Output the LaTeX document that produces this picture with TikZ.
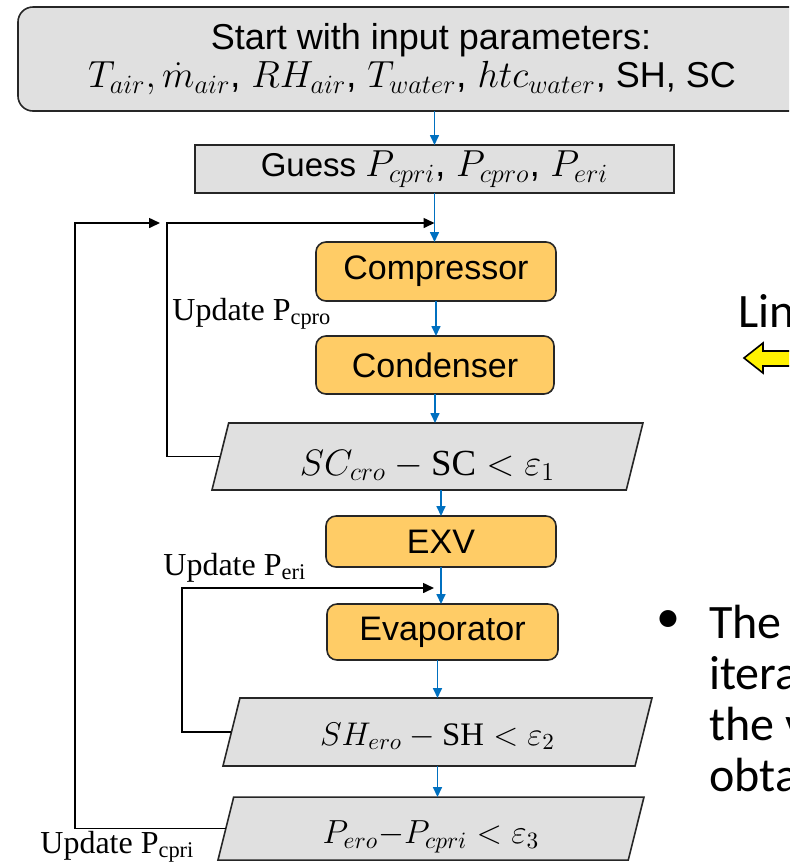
\RequirePackage{fix-cm}
\documentclass[tikz,border=0pt]{standalone}
\usepackage{amsmath,amssymb}
\usepackage{fontspec}
\setmainfont{Liberation Serif}
\setsansfont{Liberation Sans}
\newfontfamily\slidefont{Carlito}
\usepackage{tikz}
\usetikzlibrary{shapes.geometric,arrows.meta,positioning}

\definecolor{boxgray}{RGB}{224,224,224}
\definecolor{unitorange}{RGB}{255,204,102}
\definecolor{flowblue}{RGB}{0,112,192}
\definecolor{edgegray}{RGB}{38,38,38}

\begin{document}
\begin{tikzpicture}[
    x=0.5pt, y=-0.5pt,
    >={Triangle[length=5.5pt,width=5pt]},
    inbox/.style={draw=edgegray, line width=0.8pt, fill=boxgray, rectangle,
                  rounded corners=7.5pt, align=center, inner sep=0pt, outer sep=0pt,
                  font=\sffamily\fontsize{18}{19}\selectfont},
    guessbox/.style={draw=edgegray, line width=0.8pt, fill=boxgray, rectangle,
                     inner sep=0pt, outer sep=0pt,
                     font=\sffamily\fontsize{16.5}{20}\selectfont},
    unit/.style={draw=edgegray, line width=0.8pt, fill=unitorange, rectangle,
                 rounded corners=5pt, inner sep=0pt, outer sep=0pt,
                 font=\sffamily\fontsize{17}{20}\selectfont},
    check/.style={draw=edgegray, line width=0.8pt, fill=boxgray, trapezium,
                  trapezium left angle=76, trapezium right angle=104,
                  trapezium stretches body, inner xsep=0pt, outer sep=0pt},
    flow/.style={->, flowblue, line width=0.8pt, >={Triangle[length=5pt,width=4.5pt]}},
    back/.style={->, black, line width=0.8pt},
    update/.style={anchor=base west, inner sep=0pt, font=\fontsize{16}{19}\selectfont},
    slide/.style={anchor=base west, inner sep=0pt, font=\slidefont\fontsize{24}{26}\selectfont}
]
\useasboundingbox (0,0) rectangle (789,864);
\clip (0,0) rectangle (789,864);

% main chain
\node[inbox, minimum width=413pt, minimum height=52pt] (start) at (431,59)
  {Start with input parameters:\\
   {\fontsize{18.9}{19}\selectfont$T_{air},\dot{m}_{air}$, $RH_{air}$, $T_{water}$, $htc_{water}$}, SH, SC\hspace*{19pt}};
\node[guessbox, below=17pt of start, xshift=1.75pt, minimum width=239.5pt,
      minimum height=24pt] (guess)
  {Guess {\fontsize{18.8}{20}\selectfont$P_{cpri}$, $P_{cpro}$, $P_{eri}$}};
\node[unit, below=24.5pt of guess, xshift=0.75pt, minimum width=120pt,
      minimum height=29.5pt] (comp) {Compressor};
\node[unit, below=17.5pt of comp, xshift=-0.5pt, minimum width=119pt,
      minimum height=29pt] (cond) {Condenser};
\node[check, below=14.5pt of cond, xshift=-3.75pt, minimum width=215.5pt,
      text height=22pt, text depth=3.5pt, inner ysep=4pt,
      font=\fontsize{18.4}{20}\selectfont] (sc)
  {$SC_{cro} - \mathrm{SC} < \varepsilon_1$};
\node[unit, below=13pt of sc, xshift=6.75pt, minimum width=115pt,
      minimum height=25.5pt] (exv) {EXV};
\node[unit, below=18.5pt of exv, xshift=0.75pt, minimum width=115.5pt,
      minimum height=28pt] (evap) {Evaporator};
\node[check, below=19pt of evap, xshift=-2.5pt, minimum width=214.5pt,
      text height=17pt, text depth=4pt, inner ysep=6.5pt,
      font=\fontsize{16.4}{20}\selectfont] (sh)
  {$SH_{ero} - \mathrm{SH} < \varepsilon_2$};
\node[check, below=15.5pt of sh, xshift=-3.25pt, minimum width=213pt,
      text height=18.5pt, text depth=4pt, inner ysep=4.5pt,
      font=\fontsize{16.7}{20}\selectfont] (p)
  {$P_{ero}{-}P_{cpri} < \varepsilon_3$};

\draw[flow] (start.south -| guess.north) -- (guess.north);
\draw[flow] (guess.south) -- (guess.south |- comp.north);
\draw[flow] (comp.south) -- (comp.south |- cond.north);
\draw[flow] (cond.south) -- (cond.south |- sc.north);
\draw[flow] (sc.south -| exv.north) -- (exv.north);
\draw[flow] (exv.south) -- (exv.south |- evap.north);
\draw[flow] (evap.south -| sh.north) -- (sh.north);
\draw[flow] (sh.south) -- (sh.south |- p.north);

% update loops
\coordinate (jcpri) at (75,223);
\coordinate (jcpro) at (167,223);
\coordinate (jeri) at (182,588);
\draw[back] (sc.west) -| (jcpro) -- (jcpro -| guess.south);
\draw[back, shorten >=3.5pt] (p.west) -| (jcpri) -- (jcpro);
\draw[back, shorten >=3.5pt] (sh.west) -| (jeri) -- (jeri -| exv.south);

\node[update] (lcpro) at (172,320) {Update P\textsubscript{cpro}};
\node[update] (leri) at (163,575) {Update P\textsubscript{eri}};
\node[update] (lcpri) at (40,853) {Update P\textsubscript{cpri}};

% rest of the slide
\node[slide] (lin) at (738,327) {Lin};
\draw[fill=yellow, line width=0.8pt] (744,358) -- (763,343) -- (763,351)
  -- (800,351) -- (800,366) -- (763,366) -- (763,373) -- cycle;
\node[inner sep=0pt, font=\slidefont\fontsize{24}{26}\selectfont] (dot) at (668,622) {\textbullet};
\foreach \w [count=\i] in {The, itera, the v, obta}
  \node[slide] (line\i) at (709,{587+51*\i}) {\w};
\end{tikzpicture}
\end{document}
